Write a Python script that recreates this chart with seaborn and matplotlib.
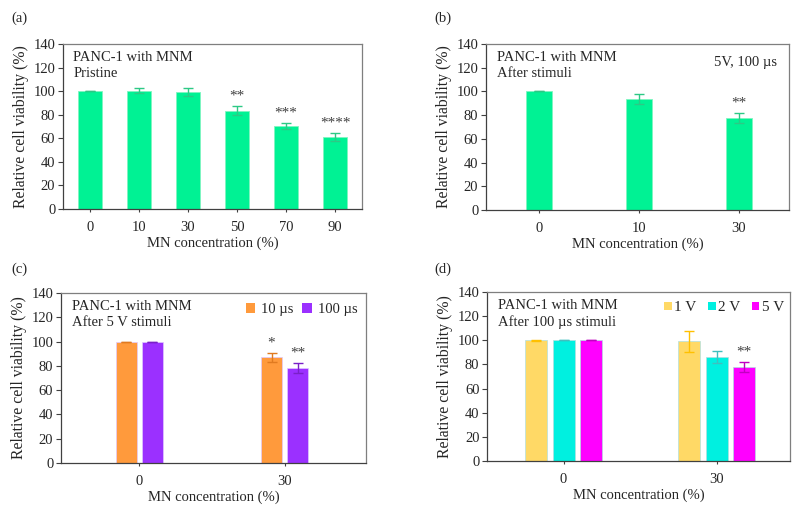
import matplotlib
matplotlib.use("Agg")
import matplotlib.pyplot as plt
import seaborn as sns
import pandas as pd
import numpy as np
from matplotlib.patches import Patch

sns.set_theme(style="white")
plt.rcParams['font.family'] = ['Liberation Serif', 'DejaVu Serif']
plt.rcParams['mathtext.fontset'] = 'stix'

# ---- data ----
a_conc = ["0", "10", "30", "50", "70", "90"]
a_val = [100, 100.5, 99, 83.5, 70.5, 61]
a_err = [0, 2.5, 3.5, 3.5, 2.8, 3.3]
a_sig = ["", "", "", "**", "***", "****"]

b_conc = ["0", "10", "30"]
b_val = [100, 93.5, 77.5]
b_err = [0, 4, 4]
b_sig = ["", "", "**"]

c_conc = ["0", "30"]
c_groups = ["10 µs", "100 µs"]
c_val_10 = [100, 87]
c_err_10 = [0, 3.5]
c_val_100 = [100, 78]
c_err_100 = [0, 4]
c_sig_10 = ["", "*"]
c_sig_100 = ["", "**"]

d_conc = ["0", "30"]
d_groups = ["1 V", "2 V", "5 V"]
d_val_1 = [100, 99]
d_err_1 = [0.3, 9]
d_val_2 = [100, 86.5]
d_err_2 = [0, 5]
d_val_5 = [100, 78]
d_err_5 = [0, 4]
d_sig_5 = ["", "**"]

GREEN = "#00F294"
GREEN_E = "#2DC985"
FS = 10.5
SPINE = "#7f7f7f"
STAR = "#404040"

fig = plt.figure(figsize=(7.98, 5.08), dpi=100)

def style(ax, xlim):
    ax.set_ylim(0, 140)
    ax.set_yticks(range(0, 141, 20))
    ax.set_xlim(*xlim)
    for s in ax.spines.values():
        s.set_color(SPINE)
        s.set_linewidth(0.9)
    ax.spines['bottom'].set_color("#404040")
    ax.spines['left'].set_color("#404040")
    ax.tick_params(axis='y', length=3.5, width=0.8, color="#404040", labelsize=FS, pad=2, left=True)
    ax.tick_params(axis='x', length=2.5, width=0.8, color="#404040", labelsize=FS, pad=6, bottom=True)
    ax.set_ylabel("Relative cell viability (%)", fontsize=11.3, labelpad=3)
    ax.set_xlabel("MN concentration (%)", fontsize=FS, labelpad=2)

def add_err(ax, patches, vals, errs, color, sigs=None):
    xs = [p.get_x() + p.get_width() / 2 for p in patches]
    ax.errorbar(xs, vals, yerr=errs, fmt='none', ecolor=color, elinewidth=1.0,
                capsize=3.5, capthick=1.0)
    if sigs:
        for x, v, e, s in zip(xs, vals, errs, sigs):
            if s:
                ax.text(x, v + e + 3, s, ha='center', va='bottom', fontsize=11, color=STAR)

# (a)
ax = fig.add_axes([0.0789, 0.5886, 0.3747, 0.3248])
dfa = pd.DataFrame({"conc": a_conc, "val": a_val})
sns.barplot(data=dfa, x="conc", y="val", color=GREEN, width=0.48, errorbar=None,
            edgecolor="#7ff5c0", linewidth=0.6, saturation=1, ax=ax)
style(ax, (-0.55, 5.55))
add_err(ax, ax.patches, a_val, a_err, GREEN_E, a_sig)
ax.text(0.035, 0.96, "PANC-1 with MNM\nPristine", transform=ax.transAxes, ha='left', va='top',
        fontsize=FS, linespacing=1.3)
fig.text(0.014, 0.965, "(a)", fontsize=FS, ha='left', va='center')

# (b)
ax = fig.add_axes([0.609, 0.5866, 0.3797, 0.3268])
dfb = pd.DataFrame({"conc": b_conc, "val": b_val})
sns.barplot(data=dfb, x="conc", y="val", color=GREEN, width=0.26, errorbar=None,
            edgecolor="#7ff5c0", linewidth=0.6, saturation=1, ax=ax)
style(ax, (-0.53, 2.5))
add_err(ax, ax.patches, b_val, b_err, GREEN_E, b_sig)
ax.text(0.035, 0.96, "PANC-1 with MNM\nAfter stimuli", transform=ax.transAxes, ha='left', va='top',
        fontsize=FS, linespacing=1.3)
ax.text(0.96, 0.93, "5V, 100 µs", transform=ax.transAxes, ha='right', va='top', fontsize=FS)
fig.text(0.544, 0.965, "(b)", fontsize=FS, ha='left', va='center')

# (c)
ax = fig.add_axes([0.0764, 0.0886, 0.3822, 0.3346])
dfc = pd.DataFrame({"conc": c_conc * 2,
                    "grp": [c_groups[0]] * 2 + [c_groups[1]] * 2,
                    "val": c_val_10 + c_val_100})
c_pal = {c_groups[0]: "#FF9A3C", c_groups[1]: "#9B30FF"}
sns.barplot(data=dfc, x="conc", y="val", hue="grp", palette=c_pal, width=0.36, gap=0.2,
            errorbar=None, saturation=1, edgecolor="#e0c8ff", linewidth=0.5, legend=False, ax=ax)
style(ax, (-0.54, 1.56))
cont = ax.containers
add_err(ax, list(cont[0]), c_val_10, c_err_10, "#E07A20", c_sig_10)
add_err(ax, list(cont[1]), c_val_100, c_err_100, "#7A20C8", c_sig_100)
ax.text(0.035, 0.96, "PANC-1 with MNM\nAfter 5 V stimuli", transform=ax.transAxes, ha='left', va='top',
        fontsize=FS, linespacing=1.3)
handles = [Patch(facecolor=c_pal[g], edgecolor='none', label=g) for g in c_groups]
ax.legend(handles=handles, loc='upper right', ncol=2, frameon=False, fontsize=FS,
          handlelength=0.65, handleheight=0.65, handletextpad=0.4, columnspacing=0.6,
          borderaxespad=0.2, bbox_to_anchor=(1.0, 0.99))
fig.text(0.014, 0.47, "(c)", fontsize=FS, ha='left', va='center')

# (d)
ax = fig.add_axes([0.6103, 0.0925, 0.3797, 0.3327])
dfd = pd.DataFrame({"conc": d_conc * 3,
                    "grp": [d_groups[0]] * 2 + [d_groups[1]] * 2 + [d_groups[2]] * 2,
                    "val": d_val_1 + d_val_2 + d_val_5})
d_pal = {d_groups[0]: "#FFD966", d_groups[1]: "#00F0E0", d_groups[2]: "#FF00FF"}
sns.barplot(data=dfd, x="conc", y="val", hue="grp", palette=d_pal, width=0.54, gap=0.2,
            errorbar=None, saturation=1, edgecolor="#b0e0e0", linewidth=0.5, legend=False, ax=ax)
style(ax, (-0.5, 1.48))
cont = ax.containers
add_err(ax, list(cont[0]), d_val_1, d_err_1, "#FFC000")
add_err(ax, list(cont[1]), d_val_2, d_err_2, "#40BFBF")
add_err(ax, list(cont[2]), d_val_5, d_err_5, "#C000C0", d_sig_5)
ax.text(0.035, 0.96, "PANC-1 with MNM\nAfter 100 µs stimuli", transform=ax.transAxes, ha='left', va='top',
        fontsize=FS, linespacing=1.3)
handles = [Patch(facecolor=d_pal[g], edgecolor='none', label=g) for g in d_groups]
ax.legend(handles=handles, loc='upper right', ncol=3, frameon=False, fontsize=11,
          handlelength=0.5, handleheight=0.5, handletextpad=0.15, columnspacing=0.75,
          borderaxespad=0.1, bbox_to_anchor=(1.005, 0.99))
fig.text(0.544, 0.47, "(d)", fontsize=FS, ha='left', va='center')

fig.savefig("out.png", dpi=100)
